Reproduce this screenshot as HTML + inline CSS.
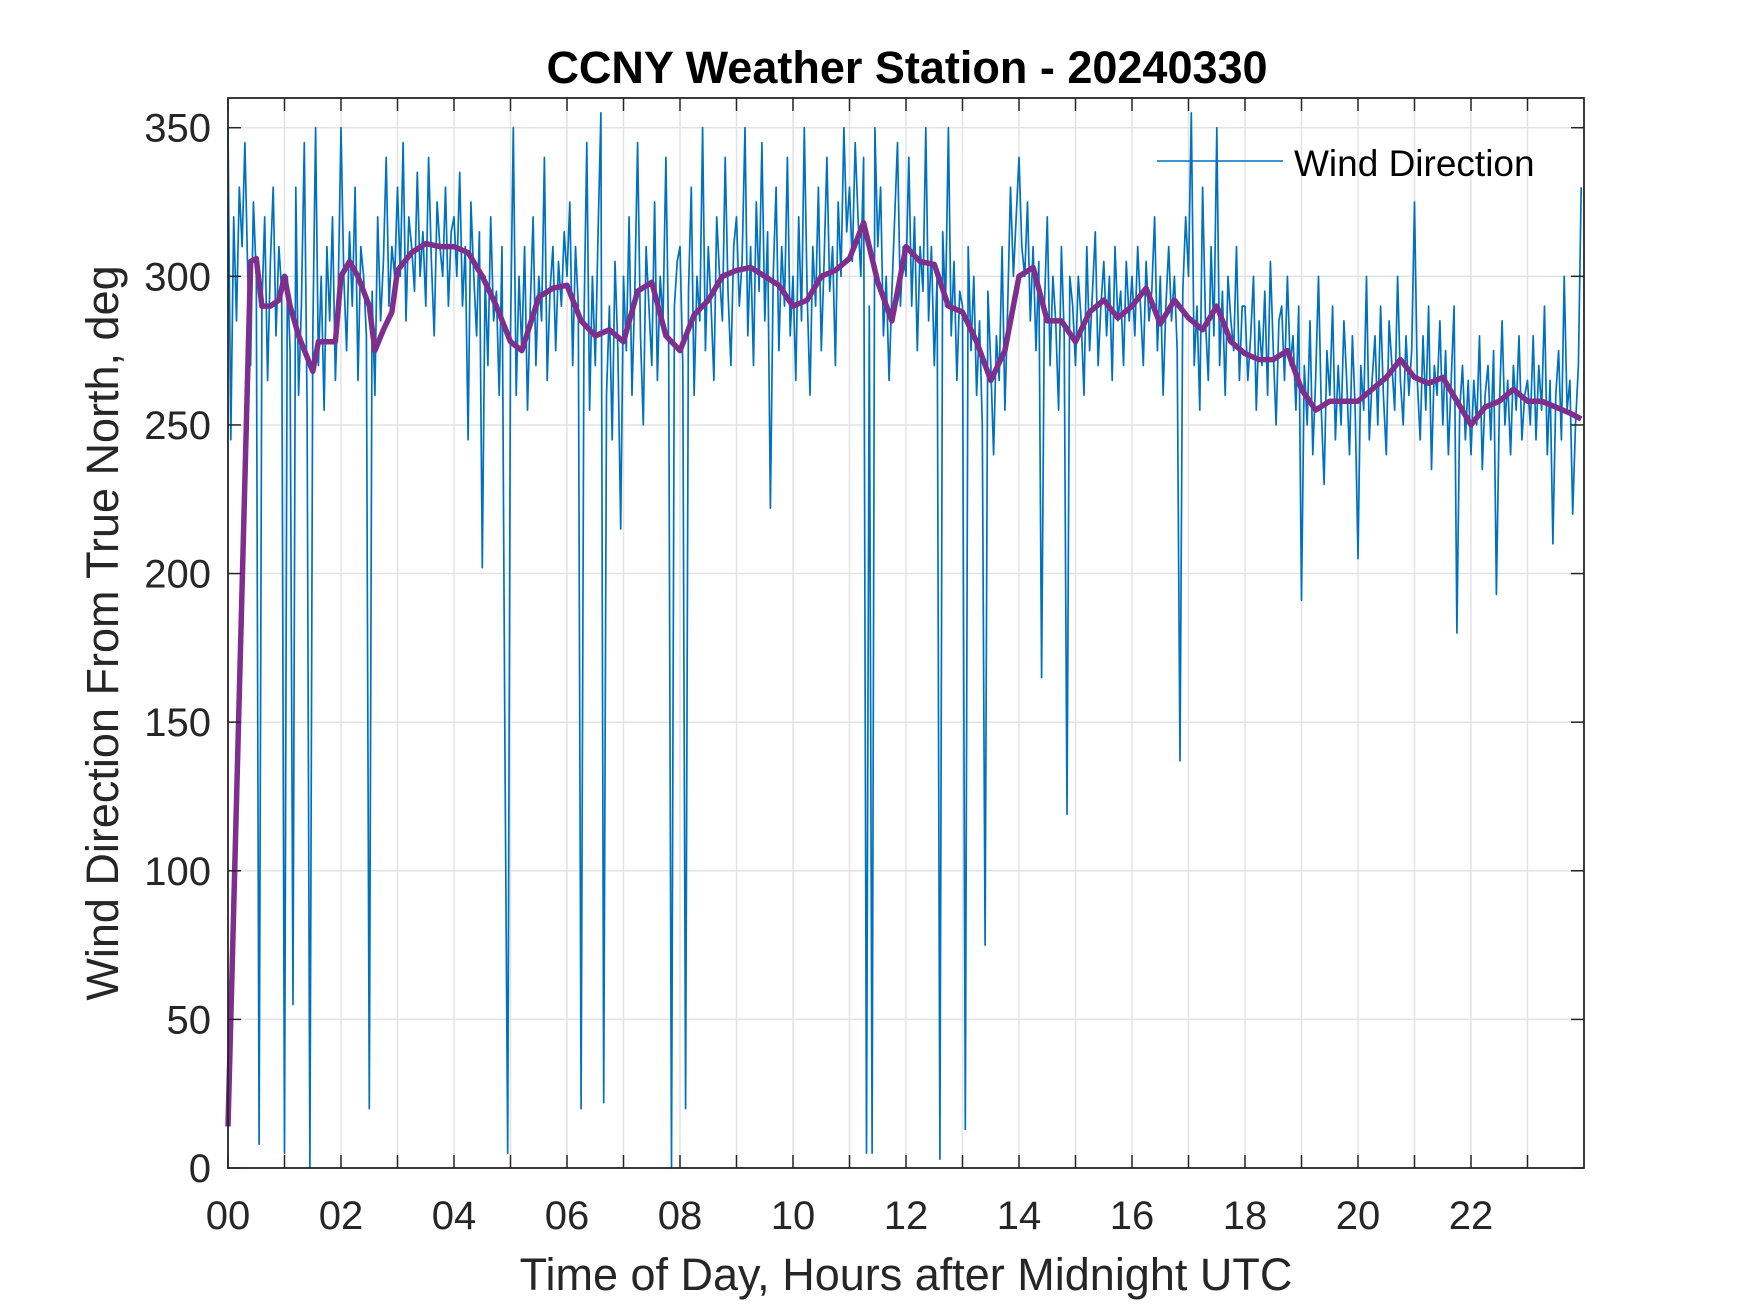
<!DOCTYPE html>
<html><head><meta charset="utf-8"><style>
html,body{margin:0;padding:0;background:#fff;}
svg{display:block;font-family:"Liberation Sans",Arial,sans-serif;}
</style></head><body>
<svg id="chart" width="1750" height="1313" viewBox="0 0 1750 1313">
<rect width="1750" height="1313" fill="#fff"/>
<g id="grid"></g>
<g id="series"></g>
<g id="axes"></g>
<text x="907" y="83" text-anchor="middle" font-size="45" font-weight="bold" fill="#000">CCNY Weather Station - 20240330</text>
<text x="906" y="1290" text-anchor="middle" font-size="45" fill="#262626">Time of Day, Hours after Midnight UTC</text>
<text transform="translate(118,633) rotate(-90)" text-anchor="middle" font-size="45" fill="#262626">Wind Direction From True North, deg</text>
<g>
<line x1="1157" y1="161" x2="1283" y2="161" stroke="#0072BD" stroke-width="1.6"/>
<text x="1294" y="176" font-size="37" fill="#000">Wind Direction</text>
</g>
</svg>
<script>
const rawValues=[
350,245,320,285,330,310,345,300,270,325,300,8,290,320,265,305,330,280,310,295,
5,300,275,55,330,260,290,345,255,0,280,350,270,300,255,310,285,320,265,295,
350,300,275,315,290,330,265,310,300,280,20,295,260,320,285,305,340,290,310,300,
330,300,345,285,320,310,295,335,300,315,290,340,305,280,325,310,300,330,290,315,
320,300,335,290,310,245,325,300,280,315,202,300,270,320,285,295,260,310,143,5,
280,350,260,300,275,310,255,290,320,270,300,285,340,265,295,310,275,305,290,315,
300,325,270,310,290,20,285,345,255,300,270,315,355,22,260,290,245,305,275,215,
300,275,320,260,295,345,280,250,310,290,270,325,265,300,285,340,275,0,290,305,
310,270,20,295,330,260,300,285,350,275,310,290,265,320,300,285,340,295,270,310,
320,290,305,350,280,310,270,325,295,345,285,315,222,300,330,275,310,290,340,280,
300,265,320,285,350,295,260,310,290,330,275,305,340,295,310,270,325,300,350,315,
330,305,345,320,300,340,5,290,5,350,310,330,280,300,265,295,320,345,290,310,
300,340,290,320,275,310,295,350,285,310,270,300,3,315,290,350,280,305,265,295,
290,13,310,275,300,260,285,250,75,295,270,240,280,265,310,255,290,330,300,320,
340,310,300,325,285,310,275,305,165,290,320,270,300,285,255,310,280,119,300,290,
270,300,285,260,310,275,295,315,270,290,305,280,300,265,310,285,295,270,305,285,
300,280,310,290,270,305,285,295,320,275,300,260,290,310,285,300,275,137,295,320,
300,355,270,290,255,330,285,265,310,280,350,270,295,260,300,285,275,310,265,290,
290,265,280,300,255,285,270,295,260,305,275,250,285,290,265,300,270,280,255,290,
191,270,250,285,240,265,300,255,230,275,260,290,245,270,250,285,265,240,280,255,
205,270,255,300,245,265,280,250,290,260,240,285,270,255,300,265,250,280,260,275,
325,265,245,280,255,290,235,270,260,285,250,275,240,265,290,180,255,270,245,265,
240,265,250,280,235,260,270,245,275,193,255,285,250,265,240,270,255,280,245,260,
265,250,280,245,270,255,290,240,265,210,260,275,245,300,255,265,220,250,270,330];
const rawStepHours=0.05;
const avgHours=[0,0.4,0.5,0.6,0.75,0.9,1.0,1.1,1.25,1.5,1.6,1.75,1.9,2.0,2.15,2.3,2.5,2.6,2.75,2.9,3.0,3.25,3.5,3.75,4.0,4.25,4.5,4.75,5.0,5.2,5.5,5.75,6.0,6.25,6.5,6.75,7.0,7.25,7.5,7.75,8.0,8.25,8.5,8.75,9.0,9.25,9.5,9.75,10.0,10.25,10.5,10.75,11.0,11.25,11.5,11.75,12.0,12.25,12.5,12.75,13.0,13.25,13.5,13.75,14.0,14.25,14.5,14.75,15.0,15.25,15.5,15.75,16.0,16.25,16.5,16.75,17.0,17.25,17.5,17.75,18.0,18.25,18.5,18.75,19.0,19.25,19.5,19.75,20.0,20.25,20.5,20.75,21.0,21.25,21.5,21.75,22.0,22.25,22.5,22.75,23.0,23.25,23.5,23.75,23.95];
const avgValues=[14,305,306,290,290,292,300,290,280,268,278,278,278,300,305,300,290,275,282,288,302,308,311,310,310,308,300,290,278,275,293,296,297,285,280,282,278,295,298,280,275,287,292,300,302,303,300,297,290,292,300,302,306,318,298,285,310,305,304,290,288,278,265,275,300,303,285,285,278,288,292,286,290,296,284,292,286,282,290,278,274,272,272,275,262,255,258,258,258,262,266,272,266,264,266,258,250,256,258,262,258,258,256,254,252];
const xTickHours=[0,1,2,3,4,5,6,7,8,9,10,11,12,13,14,15,16,17,18,19,20,21,22,23];
const xTickLabels=["00","","02","","04","","06","","08","","10","","12","","14","","16","","18","","20","","22",""];
const yTicks=[0,50,100,150,200,250,300,350];

const L=228,R=1584,T=98,B=1168,X0=0,X1=24,Y0=0,Y1=360;
const NS="http://www.w3.org/2000/svg";
function xs(h){return L+(h-X0)/(X1-X0)*(R-L);}
function ys(v){return B-(v-Y0)/(Y1-Y0)*(B-T);}
function mk(tag,attrs,parent){const e=document.createElementNS(NS,tag);for(const k in attrs)e.setAttribute(k,attrs[k]);parent.appendChild(e);return e;}
const grid=document.getElementById('grid'),axes=document.getElementById('axes'),series=document.getElementById('series');

xTickHours.forEach((h,i)=>{
  const x=xs(h);
  const g=mk('line',{x1:x,y1:T,x2:x,y2:B,stroke:'#e3e3e3','stroke-width':1.5},grid);
  
  
  const t1=mk('line',{x1:x,y1:B,x2:x,y2:B-13,stroke:'#262626','stroke-width':1.5},axes);
  
  
  const t2=mk('line',{x1:x,y1:T,x2:x,y2:T+13,stroke:'#262626','stroke-width':1.5},axes);
  
  
  if(xTickLabels[i]){
    const tl=mk('text',{x:x,y:1229,'text-anchor':'middle','font-size':40,fill:'#262626'},axes);
    tl.textContent=xTickLabels[i];
    
    
  }
});
yTicks.forEach(v=>{
  const y=ys(v);
  const g=mk('line',{x1:L,y1:y,x2:R,y2:y,stroke:'#e3e3e3','stroke-width':1.5},grid);
  
  
  const t1=mk('line',{x1:L,y1:y,x2:L+13,y2:y,stroke:'#262626','stroke-width':1.5},axes);
  
  
  const t2=mk('line',{x1:R,y1:y,x2:R-13,y2:y,stroke:'#262626','stroke-width':1.5},axes);
  
  
  const tl=mk('text',{x:211,y:y+14,'text-anchor':'end','font-size':40,fill:'#262626'},axes);
  tl.textContent=String(v);
  
  
});
const box=mk('rect',{x:L,y:T,width:R-L,height:B-T,fill:'none',stroke:'#262626','stroke-width':1.8},axes);



const rawPts=rawValues.map((v,i)=>xs(i*rawStepHours).toFixed(1)+','+ys(v).toFixed(1)).join(' ');
const rawLine=mk('polyline',{points:rawPts,fill:'none',stroke:'#0072BD','stroke-width':1.7,'stroke-linejoin':'round'},series);


const avgPts=avgValues.map((v,i)=>xs(avgHours[i]).toFixed(1)+','+ys(v).toFixed(1)).join(' ');
const avgLine=mk('polyline',{points:avgPts,fill:'none',stroke:'#7E2F8E','stroke-width':5.5,'stroke-linejoin':'round'},series);


</script>
</body></html>
